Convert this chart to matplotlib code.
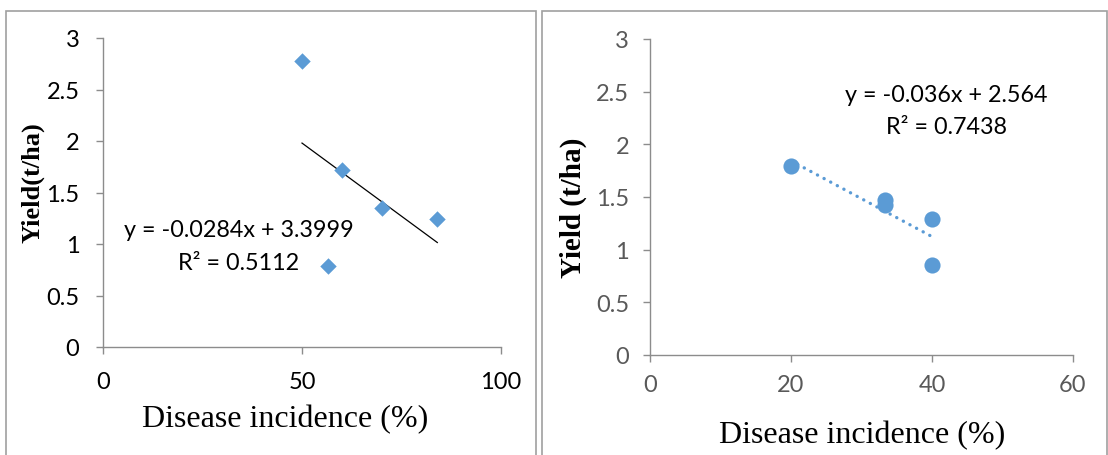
import numpy as np
import matplotlib
matplotlib.use('Agg')
import matplotlib.pyplot as plt
from matplotlib.patches import Rectangle

# left panel data
incidence_a = [50, 60, 70, 84, 56.5]
yield_a = [2.78, 1.72, 1.35, 1.24, 0.79]
slope_a, intercept_a = -0.0284, 3.3999
eq_a = 'y = -0.0284x + 3.3999'
r2_a = 'R² = 0.5112'

# right panel data
incidence_b = [20, 33.3, 33.3, 40, 40]
yield_b = [1.79, 1.47, 1.42, 1.29, 0.85]
slope_b, intercept_b = -0.036, 2.564
eq_b = 'y = -0.036x + 2.564'
r2_b = 'R² = 0.7438'

xticks_a = [0, 50, 100]
xticks_b = [0, 20, 40, 60]
yticks = [0, 0.5, 1, 1.5, 2, 2.5, 3]

blue = '#5B9BD5'
axis_grey = '#8c8c8c'
sans = 'Lato'
serif = 'Liberation Serif'

W, H = 1108, 456
fig = plt.figure(figsize=(W / 100, H / 100), dpi=100)


def fx(px):
    return px / W


def fy(py):
    return 1 - py / H


# panel frames (cut off at the bottom like the source)
for x0, x1 in [(6, 536), (542, 1107)]:
    fig.add_artist(Rectangle((fx(x0), -0.1), fx(x1) - fx(x0), fy(12) + 0.1,
                             transform=fig.transFigure, fill=False,
                             edgecolor='#a0a0a0', lw=1.2))


def style_axes(ax, tick_col, xpad, ypad):
    for s in ['top', 'right']:
        ax.spines[s].set_visible(False)
    for s in ['left', 'bottom']:
        ax.spines[s].set_color(axis_grey)
        ax.spines[s].set_linewidth(1.0)
    ax.tick_params(axis='both', direction='out', length=5, width=1.0,
                   color=axis_grey, labelcolor=tick_col, labelsize=17)
    ax.tick_params(axis='x', pad=xpad)
    ax.tick_params(axis='y', pad=ypad)
    for lab in ax.get_xticklabels() + ax.get_yticklabels():
        lab.set_fontfamily(sans)
    ax.set_ylim(0, 3)
    ax.set_yticks(yticks)
    ax.set_yticklabels([f'{v:g}' for v in yticks])


# left chart
ax1 = fig.add_axes([fx(103), fy(348), fx(501) - fx(103), fy(39) - fy(348)])
ax1.scatter(incidence_a, yield_a, marker='D', s=70, color=blue, zorder=3, linewidths=0)
xs = np.array([min(incidence_a), max(incidence_a)])
ax1.plot(xs, slope_a * xs + intercept_a, color='black', lw=0.9, zorder=2)
ax1.set_xlim(0, 100)
ax1.set_xticks(xticks_a)
style_axes(ax1, 'black', 12, 12)
fig.text(fx(239), fy(231), eq_a, ha='center', va='center', fontsize=16.8, family=sans)
fig.text(fx(239), fy(264), r2_a, ha='center', va='center', fontsize=16.8, family=sans)
fig.text(fx(285), fy(420), 'Disease incidence (%)', ha='center', va='center',
         fontsize=23, family=serif)
fig.text(fx(33), fy(183), 'Yield(t/ha)', ha='center', va='center', rotation=90,
         fontsize=19, family=serif, fontweight='bold')

# right chart
ax2 = fig.add_axes([fx(650), fy(356), fx(1073) - fx(650), fy(40) - fy(356)])
ax2.scatter(incidence_b, yield_b, marker='o', s=135, color=blue, zorder=3, linewidths=0)
xs = np.array([min(incidence_b), max(incidence_b)])
ax2.plot(xs, slope_b * xs + intercept_b, color=blue, lw=2.4,
         linestyle=(0, (0.05, 2.2)), dash_capstyle='round', zorder=2)
ax2.set_xlim(0, 60)
ax2.set_xticks(xticks_b)
style_axes(ax2, '#595959', 9, 10)
fig.text(fx(946), fy(96), eq_b, ha='center', va='center', fontsize=16.8, family=sans)
fig.text(fx(947), fy(128), r2_b, ha='center', va='center', fontsize=16.8, family=sans)
fig.text(fx(862), fy(436), 'Disease incidence (%)', ha='center', va='center',
         fontsize=23, family=serif)
fig.text(fx(573), fy(208), 'Yield (t/ha)', ha='center', va='center', rotation=90,
         fontsize=21, family=serif, fontweight='bold')

fig.savefig('out.png', dpi=100)
